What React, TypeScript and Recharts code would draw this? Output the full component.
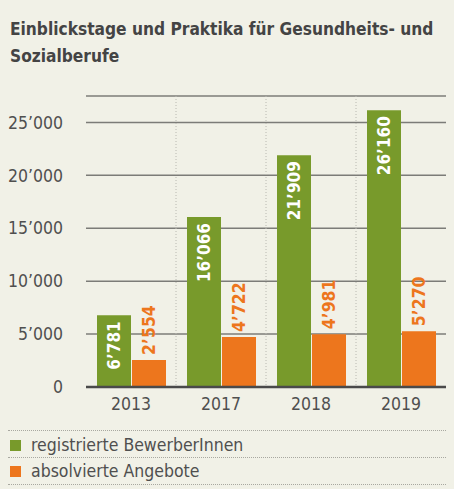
import React from 'react'
import { BarChart, Bar, XAxis, YAxis, CartesianGrid, LabelList } from 'recharts'

const years = ['2013', '2017', '2018', '2019']
const registriert = [6781, 16066, 21909, 26160]
const absolviert = [2554, 4722, 4981, 5270]
const yTicks = [0, 5000, 10000, 15000, 20000, 25000]

const data = years.map((year, i) => ({
  year,
  registriert: registriert[i],
  absolviert: absolviert[i],
}))

const GREEN = '#789a2b'
const ORANGE = '#ed761d'
const TEXT = '#4f4f4f'
const BG = '#f1f1e7'
const FONT = '"Liberation Sans Narrow", "DejaVu Sans Condensed", "Roboto Condensed", sans-serif'

const fmt = (v: number) => String(v).replace(/\B(?=(\d{3})+(?!\d))/g, '’')

const InsideLabel = (props: any) => {
  const { x, y, width, value } = props
  const cx = x + width / 2
  const ty = y + 6
  return (
    <text
      x={cx}
      y={ty}
      transform={`rotate(-90 ${cx} ${ty})`}
      textAnchor="end"
      dominantBaseline="central"
      fill="#ffffff"
      fontSize={17}
      fontWeight="bold"
      fontFamily={FONT}
    >
      {fmt(value)}
    </text>
  )
}

const AboveLabel = (props: any) => {
  const { x, y, width, value } = props
  const cx = x + width / 2
  const ty = y - 5
  return (
    <text
      x={cx}
      y={ty}
      transform={`rotate(-90 ${cx} ${ty})`}
      textAnchor="start"
      dominantBaseline="central"
      fill={ORANGE}
      fontSize={17.5}
      fontWeight="bold"
      fontFamily={FONT}
    >
      {fmt(value)}
    </text>
  )
}

const dotted = (top: number) => (
  <div
    style={{
      position: 'absolute',
      left: 8,
      width: 438,
      top,
      borderTop: '1px dotted #a8a8a0',
    }}
  />
)

export default function App() {
  return (
    <div
      style={{
        position: 'absolute',
        left: 0,
        top: 0,
        width: 454,
        height: 489,
        background: BG,
        fontFamily: FONT,
        overflow: 'hidden',
      }}
    >
      <div
        style={{
          position: 'absolute',
          left: 10,
          top: 16,
          fontSize: 17.2,
          fontWeight: 'bold',
          color: '#444444',
          lineHeight: '27px',
        }}
      >
        Einblickstage und Praktika für Gesundheits- und
        <br />
        Sozialberufe
      </div>

      <div style={{ position: 'absolute', left: 0, top: 0 }}>
        <BarChart
          width={454}
          height={425}
          data={data}
          margin={{ top: 96, right: 8, left: 16, bottom: 8 }}
          barSize={34}
          barGap={1}
        >
          <CartesianGrid
            vertical={false}
            stroke="#7c7c78"
            strokeWidth={1.5}
          />
          <CartesianGrid
            horizontal={false}
            stroke="#b8b8b0"
            strokeDasharray="1 2"
            verticalCoordinatesGenerator={({ offset }: any) =>
              years.slice(1).map((_, i) => offset.left + (offset.width * (i + 1)) / years.length)
            }
          />
          <XAxis
            dataKey="year"
            axisLine={{ stroke: '#4a4a4a', strokeWidth: 2.5 }}
            tickLine={false}
            tickSize={0}
            tickMargin={11}
            height={30}
            tick={{ fill: TEXT, fontSize: 17.5, fontFamily: FONT }}
          />
          <YAxis
            domain={[0, 27500]}
            ticks={yTicks}
            axisLine={false}
            tickLine={false}
            tickSize={0}
            tickMargin={23}
            width={70}
            tickFormatter={fmt}
            tick={{ fill: TEXT, fontSize: 17.5, fontFamily: FONT }}
          />
          <Bar dataKey="registriert" fill={GREEN} isAnimationActive={false}>
            <LabelList dataKey="registriert" content={InsideLabel} />
          </Bar>
          <Bar dataKey="absolviert" fill={ORANGE} isAnimationActive={false}>
            <LabelList dataKey="absolviert" content={AboveLabel} />
          </Bar>
        </BarChart>
      </div>

      {dotted(430)}
      <div style={{ position: 'absolute', left: 10, top: 440, width: 11, height: 11, background: GREEN }} />
      <div style={{ position: 'absolute', left: 31, top: 434, fontSize: 17.5, color: TEXT, lineHeight: '22px' }}>
        registrierte BewerberInnen
      </div>
      {dotted(457)}
      <div style={{ position: 'absolute', left: 10, top: 466, width: 11, height: 11, background: ORANGE }} />
      <div style={{ position: 'absolute', left: 31, top: 460, fontSize: 17.5, color: TEXT, lineHeight: '22px' }}>
        absolvierte Angebote
      </div>
      {dotted(484)}
    </div>
  )
}
